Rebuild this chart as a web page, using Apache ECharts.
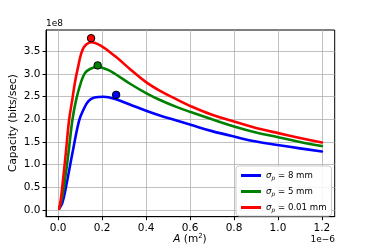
<!DOCTYPE html>
<html><head><meta charset="utf-8">
<script src="https://cdn.jsdelivr.net/npm/echarts@6/dist/echarts.min.js"></script>
<style>html,body{margin:0;padding:0;background:#fff}#c{width:372px;height:248px}</style>
</head><body><div id="c"></div>
<script>
// A in units of 1e-6 m^2 ; capacity in units of 1e8 bits/sec
const xBlue  = [0.005, 0.019, 0.036, 0.065, 0.095, 0.115, 0.138, 0.165, 0.206, 0.26, 0.329, 0.40, 0.466, 0.52, 0.603, 0.7, 0.808, 0.9, 1.006, 1.1, 1.2];
const yBlue  = [0.03, 0.15, 0.51, 1.25, 1.96, 2.21, 2.40, 2.48, 2.50, 2.45, 2.32, 2.19, 2.08, 2.00, 1.88, 1.74, 1.61, 1.51, 1.43, 1.36, 1.29];
const xGreen = [0.005, 0.015, 0.027, 0.047, 0.065, 0.082, 0.103, 0.122, 0.145, 0.176, 0.192, 0.236, 0.26, 0.329, 0.40, 0.466, 0.535, 0.603, 0.7, 0.808, 0.9, 1.006, 1.1, 1.2];
const yGreen = [0.03, 0.20, 0.51, 1.25, 1.985, 2.43, 2.80, 3.02, 3.11, 3.155, 3.15, 3.07, 3.00, 2.78, 2.58, 2.42, 2.28, 2.16, 2.00, 1.83, 1.71, 1.60, 1.50, 1.41];
const xRed   = [0.005, 0.012, 0.019, 0.035, 0.05, 0.065, 0.078, 0.092, 0.105, 0.12, 0.150, 0.192, 0.26, 0.329, 0.40, 0.466, 0.535, 0.603, 0.7, 0.808, 0.9, 1.006, 1.1, 1.2];
const yRed   = [0.03, 0.22, 0.51, 1.25, 1.985, 2.45, 2.85, 3.18, 3.45, 3.61, 3.70, 3.63, 3.39, 3.10, 2.82, 2.62, 2.45, 2.29, 2.10, 1.94, 1.81, 1.69, 1.59, 1.49];
const peakX  = [0.264, 0.18, 0.150];
const peakY  = [2.54, 3.19, 3.79];
const seriesNames = ['σp = 8 mm', 'σp = 5 mm', 'σp = 0.01 mm'];
const seriesColors = ['#0000ff', '#008000', '#ff0000'];
const xTicks = [0, 0.2, 0.4, 0.6, 0.8, 1.0, 1.2];
const yTicks = [0, 0.5, 1.0, 1.5, 2.0, 2.5, 3.0, 3.5];
const xOffsetText = '1e\u22126';
const yOffsetText = '1e8';
const yLabel = 'Capacity (bits/sec)';

const zip = (xs, ys) => xs.map((x, i) => [x, ys[i]]);
const lines = [zip(xBlue, yBlue), zip(xGreen, yGreen), zip(xRed, yRed)];
const FONT = 'DejaVu Sans';

const chart = echarts.init(document.getElementById('c'), null, {renderer: 'canvas'});
const series = lines.map((d, i) => ({
  name: seriesNames[i], type: 'line', data: d, showSymbol: false, smooth: 0.4,
  lineStyle: {color: seriesColors[i], width: 2.6, join: 'round', cap: 'round'}, itemStyle: {color: seriesColors[i]}, z: 3 + i, animation: false
}));
peakX.forEach((x, i) => series.push({
  name: 'peak' + i, type: 'scatter', data: [[x, peakY[i]]], symbolSize: 7.5,
  itemStyle: {color: seriesColors[i], borderColor: '#000', borderWidth: 1, opacity: 1}, z: 10, animation: false
}));

chart.setOption({
  animation: false,
  textStyle: {fontFamily: FONT},
  grid: {left: 46, top: 30, right: 37.3, bottom: 31.3, show: true, borderColor: '#000', borderWidth: 1, backgroundColor: 'transparent'},
  xAxis: {
    type: 'value', min: -0.055, max: 1.258,
    axisLine: {show: true, onZero: false, lineStyle: {color: '#000', width: 1}},
    axisTick: {show: true, inside: false, length: 3.5, customValues: xTicks, lineStyle: {color: '#000'}},
    axisLabel: {customValues: xTicks, color: '#000', fontSize: 10.5, fontFamily: FONT, margin: 6, formatter: v => v.toFixed(1)},
    splitLine: {show: true, lineStyle: {color: '#b0b0b0', width: 0.8}}
  },
  yAxis: {
    type: 'value', min: -0.148, max: 3.971,
    axisLine: {show: true, onZero: false, lineStyle: {color: '#000', width: 1}},
    axisTick: {show: true, inside: false, length: 3.5, customValues: yTicks, lineStyle: {color: '#000'}},
    axisLabel: {customValues: yTicks, color: '#000', fontSize: 10.5, fontFamily: FONT, margin: 5.5, formatter: v => v.toFixed(1)},
    splitLine: {show: true, lineStyle: {color: '#b0b0b0', width: 0.8}}
  },
  legend: {
    data: seriesNames, orient: 'vertical', left: 236, top: 166,
    itemWidth: 20, itemHeight: 3, icon: 'rect', itemGap: 6,
    padding: [5, 5, 3, 5],
    backgroundColor: 'rgba(255,255,255,0.85)', borderColor: '#cccccc', borderWidth: 1, borderRadius: 3,
    formatter: name => '{i|σ}{s|p}{t|' + name.slice(2) + '}',
    textStyle: {
      color: '#000', fontFamily: FONT, fontSize: 8.6,
      rich: {
        i: {fontStyle: 'italic', fontSize: 8.6, fontFamily: FONT, color: '#000'},
        s: {fontStyle: 'italic', fontSize: 6, fontFamily: FONT, color: '#000', padding: [5, 0, 0, 0]},
        t: {fontSize: 8.6, fontFamily: FONT, color: '#000'}
      }
    }
  },
  graphic: [
    {type: 'text', left: 46, top: 19, style: {text: yOffsetText, font: '9px "DejaVu Sans"', fill: '#000'}},
    {type: 'text', right: 37, top: 235, style: {text: xOffsetText, font: '9px "DejaVu Sans"', fill: '#000'}},
    {type: 'text', x: 13, y: 123, rotation: Math.PI / 2,
      style: {text: yLabel, font: '10.5px "DejaVu Sans"', fill: '#000', align: 'center', verticalAlign: 'middle'}},
    {type: 'text', x: 190, y: 239,
      style: {text: '{i|A} (m{u|2})', align: 'center', verticalAlign: 'middle', fill: '#000',
        font: '10.5px "DejaVu Sans"',
        rich: {i: {fontStyle: 'italic', fontSize: 10.5, fontFamily: FONT}, u: {fontSize: 7, fontFamily: FONT, padding: [0, 0, 6, 0]}}}}
  ],
  series: series
});
</script></body></html>
